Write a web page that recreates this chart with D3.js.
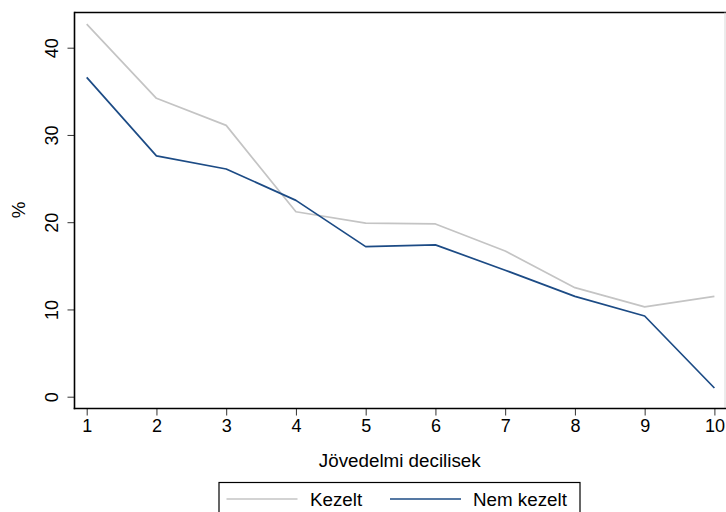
<!DOCTYPE html>
<html>
<head>
<meta charset="utf-8">
<script src="https://cdn.jsdelivr.net/npm/d3@7"></script>
<style>
  html, body { margin: 0; padding: 0; background: #fff; }
  svg { display: block; font-family: "Liberation Sans", Arial, sans-serif; }
</style>
</head>
<body>
<svg id="chart" width="726" height="512"></svg>
<script>
const deciles = [1, 2, 3, 4, 5, 6, 7, 8, 9, 10];
const kezelt = [42.7, 34.2, 31.1, 21.2, 19.9, 19.8, 16.7, 12.5, 10.3, 11.5];
const nemKezelt = [36.6, 27.6, 26.1, 22.5, 17.2, 17.4, 14.5, 11.5, 9.25, 1.0];
const yTicks = [0, 10, 20, 30, 40];
const xTicks = [1, 2, 3, 4, 5, 6, 7, 8, 9, 10];
const seriesNames = ["Kezelt", "Nem kezelt"];
const xTitle = "Jövedelmi decilisek";
const yTitle = "%";

const colors = ["#c4c4c4", "#1c4b85"];

const svg = d3.select("#chart");
const frame = { left: 74.5, right: 725, top: 12.5, bottom: 408.5 };

const x = d3.scaleLinear().domain([1, 10]).range([86.7, 714.4]);
const y = d3.scaleLinear().domain([0, 40]).range([396.7, 47.7]);

// frame
svg.append("line").attr("x1", frame.left).attr("x2", frame.right + 1).attr("y1", frame.top).attr("y2", frame.top)
  .attr("stroke", "#000").attr("stroke-width", 1.6);
svg.append("line").attr("x1", frame.right).attr("x2", frame.right).attr("y1", frame.top).attr("y2", frame.bottom)
  .attr("stroke", "#d8d8d8").attr("stroke-width", 1);

// series
const line = d3.line().x((d, i) => x(deciles[i])).y(d => y(d));
[kezelt, nemKezelt].forEach((s, k) => {
  svg.append("path").datum(s).attr("d", line).attr("fill", "none")
    .attr("stroke", colors[k]).attr("stroke-width", 1.7).attr("stroke-linejoin", "round");
});

// axes
const yAxis = d3.axisLeft(y).tickValues(yTicks).tickSize(7).tickPadding(8).tickFormat(d3.format("d"));
const gy = svg.append("g").attr("transform", `translate(${frame.left},0)`).call(yAxis);
gy.select(".domain").remove();
gy.append("line").attr("x1", 0).attr("x2", 0).attr("y1", frame.top - 0.8).attr("y2", frame.bottom + 0.8)
  .attr("stroke", "#000").attr("stroke-width", 1.6);
gy.selectAll(".tick line").attr("stroke", "#333").attr("stroke-width", 1);
gy.selectAll(".tick text")
  .attr("font-size", 18).attr("fill", "#000")
  .attr("text-anchor", "middle")
  .attr("x", 0).attr("dy", null)
  .attr("transform", "translate(-23,0) rotate(-90)")
  .attr("y", 0)
  .attr("dominant-baseline", "central");

const xAxis = d3.axisBottom(x).tickValues(xTicks).tickSize(7).tickPadding(4).tickFormat(d3.format("d"));
const gx = svg.append("g").attr("transform", `translate(0,${frame.bottom})`).call(xAxis);
gx.select(".domain").remove();
gx.append("line").attr("x1", frame.left - 0.8).attr("x2", frame.right + 1).attr("y1", 0).attr("y2", 0)
  .attr("stroke", "#000").attr("stroke-width", 1.6);
gx.selectAll(".tick line").attr("stroke", "#333").attr("stroke-width", 1);
gx.selectAll(".tick text").attr("font-size", 18).attr("fill", "#000");

// titles
svg.append("text").attr("x", (frame.left + frame.right) / 2).attr("y", 467)
  .attr("text-anchor", "middle").attr("font-size", 18.8).attr("fill", "#000").text(xTitle);
svg.append("text").attr("transform", "translate(18,210) rotate(-90)")
  .attr("text-anchor", "middle").attr("dominant-baseline", "central")
  .attr("font-size", 18.8).attr("fill", "#000").text(yTitle);

// legend
const lg = svg.append("g");
lg.append("rect").attr("x", 219).attr("y", 482.5).attr("width", 361).attr("height", 40)
  .attr("fill", "#fff").attr("stroke", "#000").attr("stroke-width", 1.2);
const legendItems = [
  { x1: 226.5, x2: 297.5, tx: 310 },
  { x1: 390, x2: 461, tx: 473 }
];
legendItems.forEach((it, k) => {
  lg.append("line").attr("x1", it.x1).attr("x2", it.x2).attr("y1", 499).attr("y2", 499)
    .attr("stroke", colors[k]).attr("stroke-width", 1.7);
  lg.append("text").attr("x", it.tx).attr("y", 506).attr("font-size", 18.8).attr("fill", "#000").text(seriesNames[k]);
});
</script>
</body>
</html>
